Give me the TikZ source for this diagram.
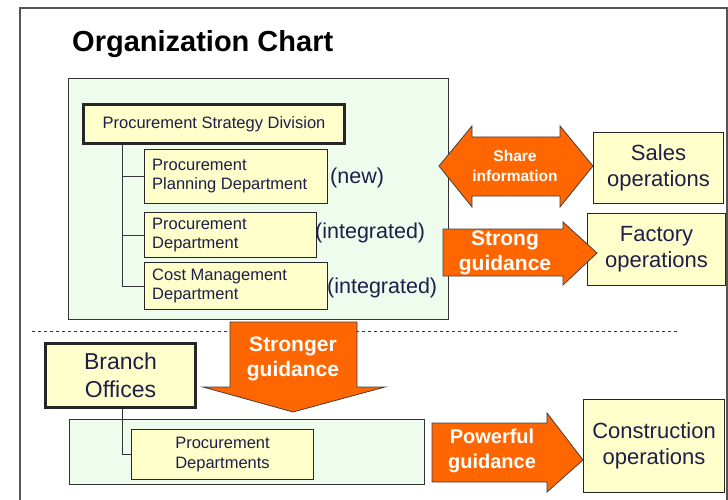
\documentclass[tikz,border=0pt]{standalone}
\usepackage{fontspec}
\setmainfont{Liberation Sans}
\newfontfamily\titlefont{Liberation Sans}
\begin{document}
\definecolor{paneGreen}{HTML}{EEFCEE}
\definecolor{noteYellow}{HTML}{FFFFCC}
\definecolor{navyText}{HTML}{1E1E4A}
\definecolor{blockOrange}{HTML}{FF6600}
\definecolor{frameGrey}{HTML}{555555}
\begin{tikzpicture}[x=1pt,y=-1pt,
  pane/.style={draw=black!80,line width=1pt,fill=paneGreen},
  unit/.style={draw=black!85,line width=1pt,fill=noteYellow,inner sep=0pt},
  headunit/.style={unit,line width=3pt},
  label/.style={text=navyText,inner sep=0pt},
  link/.style={draw=black!80,line width=1pt},
  block/.style={draw=black!75,line width=0.8pt,fill=blockOrange},
  blocktext/.style={text=white,font=\bfseries,align=center,inner sep=0pt}]
\useasboundingbox (0,0) rectangle (728,500);
\fill[white] (0,0) rectangle (728,500);

% outer frame (continues past the right and bottom edges)
\draw[frameGrey,line width=2pt] (20,501) -- (20,8) -- (727,8) -- (727,501);

% title
\node[anchor=base west,inner sep=0pt,font=\titlefont\bfseries\fontsize{29}{32}\selectfont] (title) at (72,52) {Organization Chart};

% headquarters pane
\draw[pane] (68,79) rectangle (448,319);
\node[headunit,minimum width=261,minimum height=39,anchor=north west] (psd) at (82,103) {};
\node[label,font=\fontsize{16.5}{19}\selectfont] at (psd.center) {Procurement Strategy Division};

\node[unit,minimum width=183,minimum height=54,anchor=north west] (ppd) at (144,149) {};
\node[label,anchor=west,align=left,font=\fontsize{16.5}{19}\selectfont] at ([xshift=8]ppd.west) {Procurement\\Planning Department};
\node[unit,minimum width=172,minimum height=45,anchor=north west] (pd) at (144,212) {};
\node[label,anchor=west,align=left,font=\fontsize{16.5}{19}\selectfont] at ([xshift=8]pd.west) {Procurement\\Department};
\node[unit,minimum width=183,minimum height=47,anchor=north west] (cmd) at (144,262) {};
\node[label,anchor=west,align=left,font=\fontsize{16.5}{19}\selectfont] at ([xshift=8]cmd.west) {Cost Management\\Department};

\coordinate (trunk) at (122,0);
\draw[link] (psd.south -| trunk) -- (trunk |- cmd.west) -- (cmd.west);
\draw[link] (trunk |- ppd.west) -- (ppd.west);
\draw[link] (trunk |- pd.west) -- (pd.west);

\node[label,anchor=west,font=\fontsize{21.5}{24}\selectfont] (newtag) at (330,178) {(new)};
\node[label,anchor=west,font=\fontsize{21.5}{24}\selectfont] (inttag1) at (315,233) {(integrated)};
\node[label,anchor=west,font=\fontsize{21.5}{24}\selectfont] (inttag2) at (327,288) {(integrated)};

% operation boxes
\node[unit,minimum width=130,minimum height=71,anchor=north west] (sales) at (593,132) {};
\node[label,align=center,font=\fontsize{22}{26}\selectfont] at (sales.center) {Sales\\operations};
\node[unit,minimum width=138,minimum height=72,anchor=north west] (factory) at (587,213) {};
\node[label,align=center,font=\fontsize{22}{26}\selectfont] at (factory.center) {Factory\\operations};
\node[unit,minimum width=141,minimum height=93,anchor=north west] (constr) at (583,399) {};
\node[label,align=center,font=\fontsize{22}{26}\selectfont] at (constr.center) {Construction\\operations};

% divider
\draw[dashed,line width=0.8pt,black!80] (32,331) -- (678,331);

% branch offices
\node[headunit,minimum width=150,minimum height=64,anchor=north west] (branch) at (44,342) {};
\node[label,align=center,font=\fontsize{23}{28}\selectfont] at (branch.center) {Branch\\Offices};
\draw[pane] (69,419) rectangle (424,484);
\node[unit,minimum width=182,minimum height=50,anchor=north west] (bpd) at (131,429) {};
\node[label,align=center,font=\fontsize{16.5}{20}\selectfont] at (bpd.center) {Procurement\\Departments};
\coordinate (btrunk) at (122,0);
\draw[link] (branch.south -| btrunk) -- (btrunk |- bpd.west) -- (bpd.west);

% block arrows
\draw[block] (439,166) -- (472,126) -- (472,137) -- (560,137) -- (560,126)
  -- (593,166) -- (560,207) -- (560,196) -- (472,196) -- (472,207) -- cycle;
\node[blocktext,font=\bfseries\fontsize{15.5}{20}\selectfont] (sharetxt) at (515,166) {Share\\information};

\draw[block] (443,229) -- (563,229) -- (563,222) -- (597,253) -- (563,285)
  -- (563,276) -- (443,276) -- cycle;
\node[blocktext,font=\bfseries\fontsize{21}{25}\selectfont] (strongtxt) at (505,253) {Strong\\guidance};

\draw[block] (230,322) -- (357,322) -- (357,387) -- (385,387) -- (293,412)
  -- (203,387) -- (230,387) -- cycle;
\node[blocktext,font=\bfseries\fontsize{21}{25}\selectfont] (strongertxt) at (293,359) {Stronger\\guidance};

\draw[block] (432,423) -- (547,423) -- (547,413) -- (583,460) -- (547,492)
  -- (547,482) -- (432,482) -- cycle;
\node[blocktext,font=\bfseries\fontsize{20}{25}\selectfont] (powertxt) at (492,451) {Powerful\\guidance};
\end{tikzpicture}
\end{document}
